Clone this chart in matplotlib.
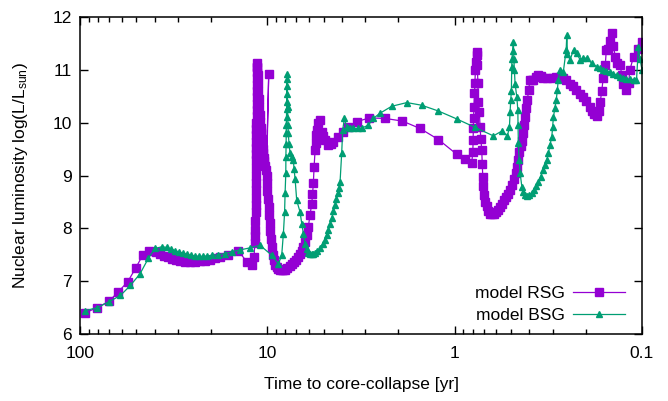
import numpy as np
import matplotlib
matplotlib.use("Agg")
import matplotlib.pyplot as plt
from matplotlib.ticker import FixedLocator, FuncFormatter, LogLocator, NullFormatter

plt.rcParams["font.family"] = ["Liberation Sans", "DejaVu Sans"]
plt.rcParams["mathtext.fontset"] = "custom"
plt.rcParams["mathtext.rm"] = "Liberation Sans"
plt.rcParams["mathtext.it"] = "Liberation Sans:italic"

# model RSG: time to core-collapse [yr], log(L/Lsun)
rsg_time = [
    94.0, 80.8, 70.0, 62.4, 55.6, 50.4, 46.3, 42.8, 39.3, 37.4, 35.6, 33.9, 32.3, 30.7,
    29.3, 27.5, 25.9, 24.3, 22.9, 21.5, 20.2, 19.0, 17.9, 16.2, 14.3, 12.9, 12.07,
    11.78, 11.66, 11.63, 11.61, 11.58, 11.56, 11.54, 11.53, 11.52, 11.51, 11.50, 11.49,
    11.48, 11.47, 11.46, 11.45, 11.44, 11.43, 11.43, 11.42, 11.42, 11.41, 11.41, 11.40,
    11.40, 11.39, 11.38, 11.37, 11.35,
    11.30, 11.25, 11.21, 11.17, 11.12, 11.07, 11.01, 10.94, 10.87, 10.80, 10.73, 10.67,
    10.60, 10.54, 10.47, 10.41, 10.25, 10.12,
    9.83,
    10.10, 10.04, 9.98, 9.91, 9.85, 9.79, 9.73, 9.67, 9.61, 9.50, 9.38, 9.27, 9.10, 8.93,
    8.73, 8.55, 8.38, 8.21, 8.04, 7.85, 7.56, 7.38, 7.20, 7.03, 6.83, 6.69, 6.55, 6.42,
    6.29, 6.16, 6.04, 5.92, 5.79, 5.74, 5.68, 5.63, 5.56, 5.53, 5.48, 5.45, 5.34, 5.23,
    5.12, 5.04, 4.92, 4.72, 4.57, 4.44, 4.18, 3.93, 3.69, 3.33, 2.85, 2.35, 1.90, 1.53,
    1.22, 0.974, 0.880, 0.811,
    0.800, 0.797, 0.795, 0.793, 0.789, 0.785, 0.780, 0.775, 0.770, 0.764, 0.762,
    0.757, 0.752, 0.747, 0.738, 0.732, 0.725, 0.717, 0.712, 0.708, 0.702, 0.696, 0.686,
    0.674, 0.661, 0.647, 0.631, 0.616, 0.601, 0.587, 0.572, 0.558, 0.545, 0.531, 0.519,
    0.506, 0.494, 0.482, 0.473, 0.466, 0.459, 0.451, 0.445, 0.438, 0.431, 0.426, 0.421,
    0.415, 0.409, 0.403, 0.396, 0.388, 0.380, 0.368, 0.357, 0.346, 0.336, 0.321, 0.303,
    0.287, 0.274, 0.264, 0.254, 0.242, 0.233, 0.225, 0.214, 0.206, 0.199, 0.189, 0.185,
    0.180, 0.174, 0.170, 0.167, 0.164, 0.161, 0.157, 0.155, 0.152, 0.148, 0.145, 0.142,
    0.139, 0.136, 0.131, 0.128, 0.126, 0.121, 0.118, 0.116, 0.111, 0.1045, 0.1002,
]
rsg_lum = [
    6.40, 6.50, 6.62, 6.80, 6.99, 7.25, 7.49, 7.57, 7.56, 7.52, 7.48, 7.45, 7.42, 7.40,
    7.38, 7.37, 7.37, 7.37, 7.38, 7.39, 7.41, 7.43, 7.45, 7.50, 7.58, 7.37, 7.30,
    7.45, 7.72, 7.85, 7.97, 8.13, 8.30, 8.45, 8.58, 8.72, 8.86, 9.00, 9.14,
    9.29, 9.40, 9.52, 9.64, 9.76, 9.88, 10.00, 10.12, 10.24, 10.36, 10.48, 10.60,
    10.72, 10.84, 10.96, 11.06, 11.13,
    11.05, 10.90, 10.75, 10.60, 10.45, 10.30, 10.15, 10.02, 9.90, 9.80, 9.70, 9.60,
    9.50, 9.42, 9.34, 9.27, 9.18, 9.10,
    10.93,
    9.00, 8.85, 8.70, 8.55, 8.40, 8.25, 8.10, 7.95, 7.80, 7.65, 7.50, 7.40, 7.31, 7.26,
    7.23, 7.21, 7.21, 7.21, 7.22, 7.24, 7.28, 7.32, 7.36, 7.41, 7.46, 7.52, 7.58, 7.65,
    7.75, 7.88, 8.03, 8.25, 8.47, 8.65, 8.85, 9.16, 9.48, 9.61, 9.76, 9.86, 9.99, 10.05,
    9.83, 9.75, 9.67, 9.58, 9.60, 9.64, 9.73, 9.83, 9.92, 10.02, 10.09, 10.08, 10.03, 9.89,
    9.68, 9.40, 9.32, 9.23,
    9.45, 9.67, 9.90, 10.09, 10.30, 10.56, 10.75, 11.00, 11.15, 11.28, 11.34,
    11.10, 10.75, 10.40, 10.21, 9.92, 9.70, 9.48, 9.22, 8.98, 8.80, 8.63, 8.50,
    8.42, 8.33, 8.28, 8.27, 8.28, 8.31, 8.35, 8.41, 8.47, 8.53, 8.59, 8.65,
    8.72, 8.82, 8.94, 9.05, 9.16, 9.30, 9.45, 9.55, 9.65, 9.80, 9.95, 10.11,
    10.27, 10.43, 10.62, 10.81, 10.80, 10.81, 10.86, 10.90, 10.88, 10.84, 10.84, 10.84,
    10.86, 10.87, 10.84, 10.80, 10.74, 10.69, 10.62, 10.55, 10.48, 10.41, 10.30, 10.23,
    10.16, 10.12, 10.22, 10.40, 10.60, 10.85, 11.10, 11.38, 11.40, 11.55, 11.70, 11.45,
    11.25, 11.12, 11.09, 10.90, 10.74, 10.62, 10.75, 11.00, 11.25, 11.40, 11.53,
]

# model BSG
bsg_time = [
    94.0, 80.8, 70.0, 60.8, 53.8, 47.8, 43.2, 39.8, 36.6, 34.4, 32.7, 31.1, 29.6, 28.2,
    26.8, 25.6, 24.3, 23.2, 22.0, 20.9, 19.7, 18.3, 16.8, 15.4, 14.0, 12.4, 10.94, 9.47,
    8.73, 8.38, 8.21, 8.09, 8.04, 7.97, 7.96, 7.94, 7.92, 7.91, 7.90, 7.89, 7.89, 7.88,
    7.88, 7.87, 7.87, 7.80, 7.76, 7.73, 7.66, 7.56, 7.42, 7.26, 7.20, 7.11, 6.97, 6.69,
    6.55, 6.42, 6.29, 6.16, 6.04, 5.92, 5.79, 5.68, 5.56, 5.40, 5.23, 5.07, 4.92, 4.80,
    4.72, 4.62, 4.53, 4.44, 4.35, 4.28, 4.21, 4.14, 4.09, 4.01, 3.96, 3.88, 3.77, 3.62,
    3.47, 3.30, 3.13, 2.89, 2.72, 2.50, 2.17, 1.80, 1.50, 1.22, 0.974, 0.778, 0.621,
    0.561, 0.523, 0.510, 0.506, 0.502, 0.498, 0.496, 0.494, 0.491, 0.486, 0.483, 0.480,
    0.476, 0.466, 0.460, 0.459, 0.457, 0.453, 0.447, 0.438, 0.430, 0.421, 0.411, 0.401,
    0.388, 0.377, 0.368, 0.357, 0.348, 0.336, 0.329, 0.322, 0.316, 0.310, 0.303, 0.300,
    0.297, 0.292, 0.287, 0.283, 0.280, 0.274, 0.263, 0.254, 0.252, 0.250, 0.242, 0.232,
    0.223, 0.214, 0.206, 0.197, 0.185, 0.174, 0.167, 0.161, 0.155, 0.148, 0.142, 0.136,
    0.131, 0.126, 0.121, 0.116, 0.111, 0.107, 0.1045, 0.1024, 0.1,
]
bsg_lum = [
    6.44, 6.50, 6.61, 6.73, 6.92, 7.14, 7.43, 7.62, 7.65, 7.64, 7.61, 7.58, 7.55, 7.53,
    7.51, 7.49, 7.48, 7.47, 7.47, 7.48, 7.49, 7.50, 7.52, 7.56, 7.59, 7.63, 7.68, 7.49,
    7.33, 7.49, 7.90, 8.30, 8.66, 9.04, 9.35, 9.60, 9.80, 9.95, 10.10, 10.25, 10.40, 10.55,
    10.70, 10.82, 10.93, 10.30, 9.95, 9.80, 9.60, 9.42, 9.35, 9.29, 9.12, 8.94, 8.53, 8.31,
    8.09, 7.90, 7.71, 7.60, 7.54, 7.52, 7.51, 7.51, 7.53, 7.57, 7.62, 7.70, 7.78, 7.88,
    7.97, 8.08, 8.19, 8.32, 8.44, 8.55, 8.66, 8.77, 8.88, 9.42, 9.86, 10.08, 9.92, 9.90,
    9.89, 9.89, 9.90, 9.95, 10.08, 10.18, 10.31, 10.38, 10.33, 10.22, 10.07, 9.91, 9.75,
    9.84, 9.75, 9.92, 10.20, 10.43, 10.60, 11.06, 11.20, 11.35, 11.53, 11.20, 11.00,
    10.74, 10.49, 10.24, 9.95, 9.61, 9.30, 9.04, 8.79, 8.68, 8.63, 8.62, 8.63,
    8.66, 8.72, 8.80, 8.88, 8.98, 9.10, 9.20, 9.30, 9.42, 9.58, 9.73, 9.92,
    10.11, 10.27, 10.43, 10.62, 10.81, 11.00, 10.96, 11.38, 11.66, 11.30, 11.19, 11.38,
    11.31, 11.19, 11.22, 11.22, 11.12, 11.06, 11.03, 11.00, 10.98, 10.96, 10.93, 10.90,
    10.87, 10.85, 10.83, 10.82, 10.81, 10.80, 11.44, 11.20, 11.00,
]

x_ticks = [100, 10, 1, 0.1]
y_ticks = [6, 7, 8, 9, 10, 11, 12]

fig = plt.figure(figsize=(6.68, 4.01), dpi=100)
ax = fig.add_axes([80 / 668, 1 - 334 / 401, 562 / 668, 317 / 401])

ax.plot(rsg_time, rsg_lum, color="#9400d3", lw=0.9, marker="s", ms=5.5,
        mec="#9400d3", label="model RSG")
ax.plot(bsg_time, bsg_lum, color="#009e73", lw=0.9, marker="^", ms=5,
        mec="#009e73", label="model BSG")

ax.set_xscale("log")
ax.set_xlim(100, 0.1)
ax.set_ylim(6, 12)
ax.xaxis.set_major_locator(FixedLocator(x_ticks))
ax.xaxis.set_major_formatter(FuncFormatter(lambda v, p: "%g" % v))
ax.xaxis.set_minor_locator(LogLocator(base=10, subs=np.arange(2, 10)))
ax.xaxis.set_minor_formatter(NullFormatter())
ax.set_yticks(y_ticks)

ax.tick_params(which="both", direction="in", top=True, right=True, labelsize=12.5)
ax.tick_params(which="major", length=6, width=1)
ax.tick_params(which="minor", length=3.5, width=1)
ax.tick_params(axis="x", pad=9)
ax.tick_params(axis="y", pad=6)
for s in ax.spines.values():
    s.set_linewidth(1.1)

ax.set_xlabel("Time to core-collapse [yr]", fontsize=12.5, labelpad=11)
ax.set_ylabel(r"Nuclear luminosity log(L/L$_{\rm sun}$)", fontsize=12.5, labelpad=16)

ax.legend(loc="lower right", bbox_to_anchor=(0.995, -0.01), frameon=False,
          markerfirst=False, fontsize=12.5, handlelength=3.0, handletextpad=0.5,
          labelspacing=0.42, borderpad=0.3)

fig.savefig("out.png", dpi=100)
